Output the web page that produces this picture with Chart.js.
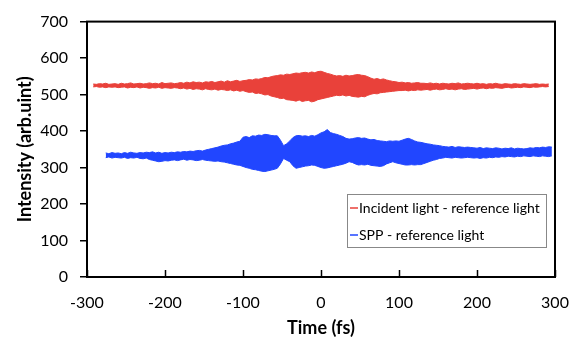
<!DOCTYPE html>
<html>
<head>
<meta charset="utf-8">
<script src="https://cdn.jsdelivr.net/npm/chart.js@4/dist/chart.umd.min.js"></script>
<style>
  html, body { margin: 0; padding: 0; background: #fff; }
  #wrap { width: 579px; height: 343px; }
</style>
</head>
<body>
<div id="wrap"><canvas id="myChart" width="579" height="343"></canvas></div>
<script>
// time axis (fs), one sample every 4 fs
const times = [-292,-288,-284,-280,-276,-272,-268,-264,-260,-256,-252,-248,-244,-240,-236,-232,-228,-224,-220,-216,
  -212,-208,-204,-200,-196,-192,-188,-184,-180,-176,-172,-168,-164,-160,-156,-152,-148,-144,-140,-136,
  -132,-128,-124,-120,-116,-112,-108,-104,-100,-96,-92,-88,-84,-80,-76,-72,-68,-64,-60,-56,
  -52,-48,-44,-40,-36,-32,-28,-24,-20,-16,-12,-8,-4,0,4,8,12,16,20,24,
  28,32,36,40,44,48,52,56,60,64,68,72,76,80,84,88,92,96,100,104,
  108,112,116,120,124,128,132,136,140,144,148,152,156,160,164,168,172,176,180,184,
  188,192,196,200,204,208,212,216,220,224,228,232,236,240,244,248,252,256,260,264,
  268,272,276,280,284,288,292,296];

// envelope of the red trace (incident - reference)
const redUpper = [529,528,530,529,531,528,529,530,528,531,529,530,532,529,530,531,529,530,532,530,
  531,529,533,530,531,532,530,531,
  533,531,534,532,535,533,534,532,535,534,536,533,535,537,534,
  538,535,537,539,536,538,
  539,541,540,543,542,
  544,547,546,549,551,
  552,554,553,556,555,
  557,559,558,560,561,559,562,560,563,564,
  561,558,556,553,551,
  552,550,553,551,552,
  554,555,553,552,549,
  545,542,544,541,543,
  540,538,536,535,533,
  534,532,533,531,532,533,531,
  531,530,532,530,531,529,531,530,529,531,530,532,529,530,531,
  530,529,531,529,530,528,530,529,531,529,528,530,529,528,530,529,528,530,529,528,529,530,528,529,528,529,
  null];
const redLower = [521,522,520,521,519,521,520,521,519,520,521,518,520,519,521,518,520,519,517,519,
  518,520,517,519,518,517,519,518,
  516,518,515,517,514,516,515,513,516,514,513,515,512,514,513,
  511,513,510,512,509,511,
  508,506,507,503,504,
  502,499,500,496,494,
  492,489,490,486,485,
  484,482,485,481,483,484,480,482,486,488,
  490,492,494,496,498,
  497,499,496,498,495,
  494,493,495,494,498,
  501,503,502,505,506,
  507,508,509,510,511,
  511,512,510,512,511,513,512,
  513,514,512,514,515,513,514,516,514,515,513,515,516,514,515,
  516,517,515,517,518,516,518,517,519,518,517,519,520,518,519,520,519,521,520,519,521,520,521,522,521,522,
  null];

// envelope of the blue trace (SPP - reference)
const blueUpper = [null,null,null,null,
  340,338,341,339,340,338,341,339,342,340,339,341,340,342,
  341,343,340,342,339,341,340,342,341,343,
  342,344,343,345,344,346,347,345,
  348,350,352,354,356,359,361,
  362,365,367,370,372,
  383,385,382,387,386,389,388,391,390,388,387,
  387,375,360,365,373,382,387,
  388,386,387,385,388,386,
  390,395,398,404,396,
  393,391,388,385,
  380,378,379,
  381,382,380,381,378,
  376,377,374,373,372,
  371,373,372,373,372,
  375,378,380,377,373,370,
  369,367,365,364,362,361,360,
  358,357,356,358,355,357,356,355,356,
  355,354,353,355,352,354,353,352,354,353,351,353,352,354,351,353,352,351,
  352,354,353,355,354,356,355,357,356];
const blueLower = [null,null,null,null,
  327,329,326,328,327,326,328,325,327,326,328,325,324,326,
  322,320,318,316,317,319,318,320,321,319,
  321,323,320,322,321,319,320,322,
  320,319,318,317,318,316,315,
  313,311,309,307,306,
  303,300,298,295,294,292,290,289,291,293,295,
  298,310,325,320,316,305,298,
  300,302,304,305,307,306,
  303,300,298,299,301,
  303,305,307,309,
  312,316,314,
  310,307,308,307,309,
  306,305,304,303,305,
  310,313,316,313,311,
  309,307,307,308,307,308,
  308,311,314,317,320,322,325,
  326,328,327,326,328,327,326,327,328,
  327,326,327,325,327,326,328,327,329,328,330,329,331,330,329,331,330,332,
  331,330,332,331,330,332,331,330,332];

const seriesNames = ["Incident light - reference light", "SPP - reference light"];
const seriesColors = ["#e9413a", "#2146ff"];
const xTicks = [-300, -200, -100, 0, 100, 200, 300];

function pts(vals) {
  return times.map((t, i) => ({ x: t, y: vals[i] }));
}

function band(vals, color, fill) {
  return {
    data: pts(vals),
    borderColor: color,
    backgroundColor: color,
    borderWidth: 1,
    pointRadius: 0,
    tension: 0,
    fill: fill
  };
}

// frame around plot, inward x ticks, and the boxed legend
const framePlugin = {
  id: "frame",
  afterDraw(chart) {
    const ctx = chart.ctx;
    const a = chart.chartArea;
    const xs = chart.scales.x;
    ctx.save();
    ctx.strokeStyle = "#000";
    ctx.lineWidth = 1.5;
    xTicks.forEach(v => {
      const px = Math.round(xs.getPixelForValue(v)) + 0.5;
      ctx.beginPath();
      ctx.moveTo(px, a.bottom);
      ctx.lineTo(px, a.bottom - 7);
      ctx.stroke();
    });
    ctx.lineWidth = 2;
    ctx.strokeRect(a.left, a.top, a.right - a.left, a.bottom - a.top);

    // legend
    const lx = 347, ly = 194, lw = 199, lh = 53;
    ctx.fillStyle = "#fff";
    ctx.fillRect(lx, ly, lw, lh);
    ctx.lineWidth = 1;
    ctx.strokeStyle = "#888";
    ctx.strokeRect(lx + 0.5, ly + 0.5, lw, lh);
    ctx.font = "14px Lato";
    ctx.textBaseline = "middle";
    seriesNames.forEach((name, i) => {
      const y = ly + 14 + i * 27;
      ctx.strokeStyle = seriesColors[i];
      ctx.lineWidth = 1.5;
      ctx.beginPath();
      ctx.moveTo(lx + 3, y);
      ctx.lineTo(lx + 11, y);
      ctx.stroke();
      ctx.fillStyle = "#000";
      ctx.fillText(name, lx + 12, y);
    });
    ctx.restore();
  }
};

const ctx = document.getElementById("myChart").getContext("2d");
new Chart(ctx, {
  type: "line",
  data: {
    datasets: [
      band(redUpper, seriesColors[0], "+1"),
      band(redLower, seriesColors[0], false),
      band(blueUpper, seriesColors[1], "+1"),
      band(blueLower, seriesColors[1], false)
    ]
  },
  options: {
    responsive: false,
    animation: false,
    layout: { padding: { left: 0, right: 24, top: 14, bottom: 0 } },
    plugins: { legend: { display: false }, tooltip: { enabled: false } },
    scales: {
      x: {
        type: "linear",
        min: -300,
        max: 300,
        afterBuildTicks: s => { s.ticks = xTicks.map(v => ({ value: v })); },
        afterFit: s => { s.height = 66; s.paddingLeft = 0; s.paddingRight = 0; },
        grid: { display: false, drawTicks: false, tickLength: 0 },
        border: { color: "#000", width: 2 },
        ticks: { color: "#000", font: { family: "Lato", size: 16 }, padding: 16, maxRotation: 0 },
        title: { display: true, text: "Time (fs)", color: "#000",
                 font: { family: "Lato", size: 18, weight: "bold" }, padding: { top: 0, bottom: 4 } }
      },
      y: {
        min: 0,
        max: 700,
        afterFit: s => { s.width = 87; },
        grid: { display: true, drawOnChartArea: false, tickLength: 7, color: "#000", lineWidth: 1.5 },
        border: { color: "#000", width: 2 },
        ticks: { stepSize: 100, color: "#000", font: { family: "Lato", size: 16 }, padding: 12 },
        title: { display: true, text: "Intensity (arb.uint)", color: "#000",
                 font: { family: "Lato", size: 18, weight: "bold" }, padding: { top: 14, bottom: 0 } }
      }
    }
  },
  plugins: [framePlugin]
});
</script>
</body>
</html>
